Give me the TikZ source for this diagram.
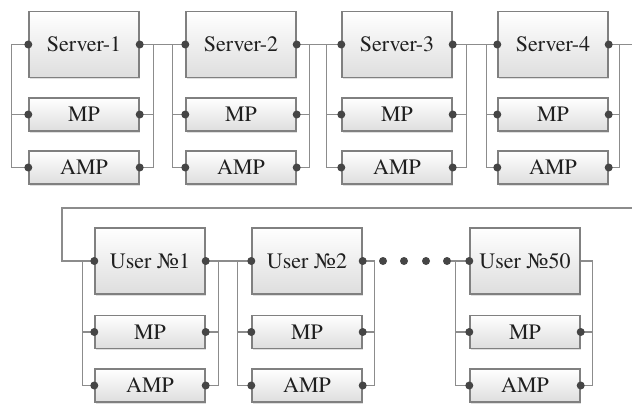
\documentclass[tikz,border=0pt]{standalone}
\usepackage{fontspec}
\newfontfamily\boxfont{texgyretermes-regular.otf}
\usetikzlibrary{shadows}
\definecolor{boxline}{HTML}{808080}
\definecolor{wirec}{HTML}{8C8C8C}
\definecolor{dotc}{HTML}{454545}
\tikzset{
  blk/.style={draw=boxline, line width=1.4pt, top color=white, bottom color=black!13,
    inner sep=0pt, font=\boxfont\fontsize{22}{24}\selectfont, text=black!88,
    drop shadow={shadow xshift=1.2pt, shadow yshift=-1.5pt, opacity=0.25}},
  bigblk/.style={blk, minimum width=110pt, minimum height=66pt},
  smallblk/.style={blk, minimum width=110pt, minimum height=33pt},
  wire/.style={draw=wirec, line width=1.3pt},
  pin/.style={circle, fill=dotc, inner sep=0pt, minimum size=8pt},
}
\begin{document}
\begin{tikzpicture}[x=1pt, y=-1pt]
\useasboundingbox (0,0) rectangle (632,404);
% ---------- top row ----------
\node[bigblk]   (s1) at (84,44.5)  {Server-1};
\node[smallblk] (m1) at (84,114.5) {MP};
\node[smallblk] (a1) at (84,167.5) {AMP};
\node[bigblk]   (s2) at (241,44.5)  {Server-2};
\node[smallblk] (m2) at (241,114.5) {MP};
\node[smallblk] (a2) at (241,167.5) {AMP};
\node[bigblk]   (s3) at (397,44.5)  {Server-3};
\node[smallblk] (m3) at (397,114.5) {MP};
\node[smallblk] (a3) at (397,167.5) {AMP};
\node[bigblk]   (s4) at (553,44.5)  {Server-4};
\node[smallblk] (m4) at (553,114.5) {MP};
\node[smallblk] (a4) at (553,167.5) {AMP};
% ---------- bottom row ----------
\node[bigblk]   (u1)  at (150,261)   {User №1};
\node[smallblk] (mu1) at (150,332)   {MP};
\node[smallblk] (au1) at (150,385.5) {AMP};
\node[bigblk]   (u2)  at (307,261)   {User №2};
\node[smallblk] (mu2) at (307,332)   {MP};
\node[smallblk] (au2) at (307,385.5) {AMP};
\node[bigblk]   (u50)  at (525,261)   {User №50};
\node[smallblk] (mu50) at (525,332)   {MP};
\node[smallblk] (au50) at (525,385.5) {AMP};
\coordinate (s4out) at (632,44.5);
\coordinate (feedR) at (632,208);
\coordinate (feedL) at (62,208);
% dots of the ellipsis
\node[pin] (e1) at (383,261) {};
\node[pin] (e2) at (404,261) {};
\node[pin] (e3) at (426,261) {};
\node[pin] (e4) at (447,261) {};
% ---------- wires ----------
\begin{scope}[wire]
\draw (s1.west) -- ++(-17,0) |- (a1.west);
\draw (m1.west) -- ++(-17,0);
\draw (s1.east) -- ++(14,0) |- (a1.east);
\draw (m1.east) -- ++(14,0);
\draw (s1.east) -- (s2.west);
\draw (s2.west) -- ++(-13,0) |- (a2.west);
\draw (m2.west) -- ++(-13,0);
\draw (s2.east) -- ++(13,0) |- (a2.east);
\draw (m2.east) -- ++(13,0);
\draw (s2.east) -- (s3.west);
\draw (s3.west) -- ++(-15,0) |- (a3.west);
\draw (m3.west) -- ++(-15,0);
\draw (s3.east) -- ++(14,0) |- (a3.east);
\draw (m3.east) -- ++(14,0);
\draw (s3.east) -- (s4.west);
\draw (s4.west) -- ++(-11,0) |- (a4.west);
\draw (m4.west) -- ++(-11,0);
\draw (s4.east) -- ++(11,0) |- (a4.east);
\draw (m4.east) -- ++(11,0);
\draw (s4.east) -- (s4out);
\draw (feedR) -- (feedL) |- (u1.west);
\draw (u1.west) -- ++(-12,0) |- (au1.west);
\draw (mu1.west) -- ++(-12,0);
\draw (u1.east) -- ++(13,0) |- (au1.east);
\draw (mu1.east) -- ++(13,0);
\draw (u1.east) -- (u2.west);
\draw (u2.west) -- ++(-14,0) |- (au2.west);
\draw (mu2.west) -- ++(-14,0);
\draw (u2.east) -- ++(12,0) |- (au2.east);
\draw (mu2.east) -- ++(12,0);
\draw (e4) -- (u50.west);
\draw (u50.west) -- ++(-14,0) |- (au50.west);
\draw (mu50.west) -- ++(-14,0);
\draw (u50.east) -- ++(12,0) |- (au50.east);
\draw (mu50.east) -- ++(12,0);
\end{scope}
% ---------- pins ----------
\foreach \n in {s1,m1,a1,s2,m2,a2,s3,m3,a3,s4,m4,a4,u1,mu1,au1,u2,mu2,au2} {
  \node[pin] at (\n.west) {};
  \node[pin] at (\n.east) {};
}
\foreach \n in {u50,mu50,au50} { \node[pin] at (\n.west) {}; }
\foreach \n in {mu50,au50} { \node[pin] at (\n.east) {}; }
\end{tikzpicture}
\end{document}
